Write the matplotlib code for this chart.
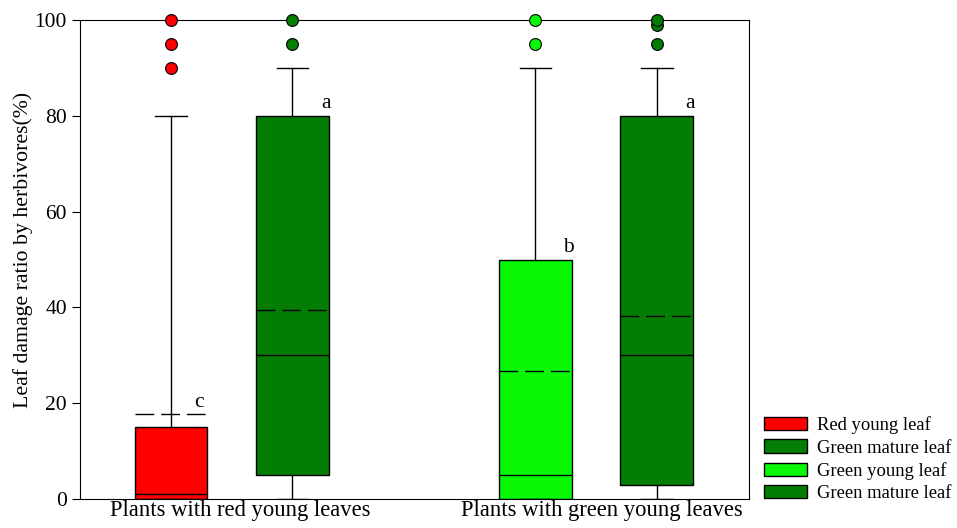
import matplotlib.pyplot as plt
from matplotlib.patches import Patch

plt.rcParams['font.family'] = ['Liberation Serif', 'DejaVu Serif']

# box statistics (leaf damage %)
labels = ["Red young leaf", "Green mature leaf", "Green young leaf", "Green mature leaf"]
colors = ["#FF0000", "#047D04", "#08F808", "#047D04"]
positions = [1, 2, 4, 5]
q1 = [0, 5, 0, 3]
q3 = [15, 80, 50, 80]
medians = [1, 30, 5, 30]
means = [17.7, 39.4, 26.8, 38.2]
whislo = [0, 0, 0, 0]
whishi = [80, 90, 90, 90]
fliers = [[90, 95, 100], [95, 100], [95, 100], [95, 99, 100]]
letters = ["c", "a", "b", "a"]
group_names = ["Plants with red young leaves", "Plants with green young leaves"]
group_pos = [1.57, 4.55]

fig = plt.figure(figsize=(9.57, 5.28), dpi=100)
ax = fig.add_axes([80 / 957, 29 / 528, 669 / 957, 479 / 528])

stats = []
for i in range(len(labels)):
    stats.append({
        "label": labels[i], "q1": q1[i], "q3": q3[i], "med": medians[i],
        "mean": means[i], "whislo": whislo[i], "whishi": whishi[i],
        "fliers": fliers[i],
    })

bp = ax.bxp(stats, positions=positions, widths=0.6, patch_artist=True,
            showmeans=True, meanline=True, capwidths=0.26,
            boxprops=dict(edgecolor="black", linewidth=1),
            medianprops=dict(color="black", linewidth=1),
            meanprops=dict(color="black", linewidth=1, linestyle=(0, (13.5, 5))),
            whiskerprops=dict(color="black", linewidth=1),
            capprops=dict(color="black", linewidth=1),
            flierprops=dict(marker="o", markersize=8.5, markeredgecolor="black",
                            markeredgewidth=0.8))

for box, c in zip(bp["boxes"], colors):
    box.set_facecolor(c)
for fl, c in zip(bp["fliers"], colors):
    fl.set_markerfacecolor(c)
    fl.set_clip_on(False)
    fl.set_zorder(5)

# significance letters
offsets = [0.23, 0.28, 0.27, 0.27]
for i in range(len(letters)):
    top = max(q3[i], means[i])
    ax.text(positions[i] + offsets[i], top + 0.5, letters[i], fontsize=15.5,
            ha="center", va="bottom")

ax.set_xlim(0.25, 5.76)
ax.set_ylim(0, 100)
ax.set_yticks([0, 20, 40, 60, 80, 100])
ax.tick_params(axis="y", direction="out", length=6, labelsize=15.5)
ax.set_xticks(group_pos)
ax.set_xticklabels(group_names, fontsize=16.3)
ax.tick_params(axis="x", length=0, pad=1)
ax.set_ylabel("Leaf damage ratio by herbivores(%)", fontsize=15.7)
ax.yaxis.set_label_coords(-0.071, 0.52)

handles = [Patch(facecolor=c, edgecolor="black", linewidth=1) for c in colors]
fig.legend(handles, labels, loc="lower left", bbox_to_anchor=(764 / 957, 26 / 528),
           frameon=False, fontsize=13.4, handlelength=2.3, handleheight=0.72,
           handletextpad=0.55, labelspacing=0.28, borderpad=0, borderaxespad=0)

fig.savefig("out.png", dpi=100)
